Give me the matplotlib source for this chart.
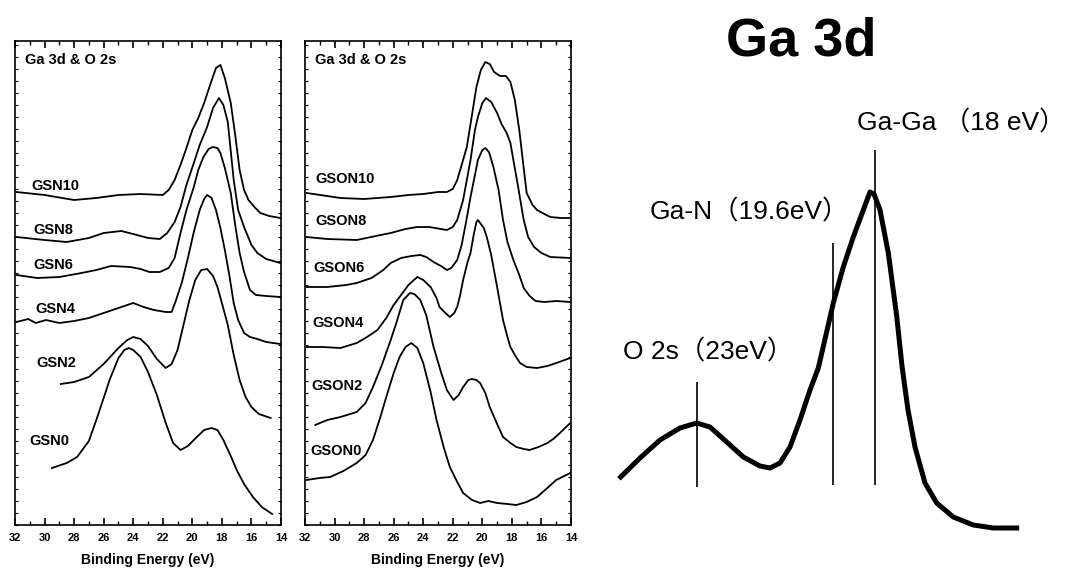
import matplotlib
matplotlib.use("Agg")
import matplotlib.pyplot as plt
from matplotlib.ticker import MultipleLocator

plt.rcParams['font.family'] = ['Liberation Sans', 'DejaVu Sans']

# ---- left panel: GSN series (binding energy eV, intensity a.u.) ----
gsn10_e = [31.9, 30.0, 28.0, 26.5, 25.0, 23.5, 22.0, 21.6, 21.2, 20.8, 20.4, 20.0, 19.6, 19.2,
           18.8, 18.4, 18.1, 17.8, 17.4, 17.1, 16.8, 16.5, 16.2, 15.8, 15.4, 14.8, 14.05]
gsn10_i = [333, 330, 325, 327, 330, 331, 330, 335, 345, 360, 377, 395, 407, 422,
           440, 457, 460, 447, 422, 390, 355, 335, 325, 318, 312, 309, 307]

gsn8_e = [31.9, 30.0, 28.5, 27.0, 26.0, 24.8, 24.0, 23.0, 22.2, 21.7, 21.2, 20.8, 20.4, 19.9,
          19.5, 19.0, 18.6, 18.2, 17.9, 17.6, 17.2, 16.9, 16.5, 16.0, 15.6, 15.0, 14.05]
gsn8_i = [288, 285, 283, 287, 292, 294, 291, 287, 286, 292, 303, 318, 340, 362,
          380, 398, 417, 427, 420, 403, 345, 315, 298, 280, 272, 266, 262]

gsn6_e = [31.9, 30.5, 29.0, 27.5, 26.5, 25.5, 24.2, 23.5, 22.9, 22.2, 21.6, 21.2, 20.8, 20.4, 19.9,
          19.6, 19.25, 18.9, 18.6, 18.3, 18.1, 17.8, 17.4, 17.1, 16.8, 16.5, 16.1, 15.7, 15.0, 14.05]
gsn6_i = [250, 247, 248, 252, 255, 259, 258, 256, 253, 253, 257, 267, 292, 315, 338,
          355, 368, 376, 378, 377, 372, 357, 332, 300, 272, 253, 235, 230, 229, 228]

gsn4_e = [31.9, 31.1, 30.6, 29.9, 29.0, 28.0, 27.0, 26.0, 25.0, 24.0, 23.3, 22.6, 21.8, 21.4, 21.1,
          20.7, 20.3, 19.9, 19.5, 19.2, 19.0, 18.7, 18.4, 18.1, 17.8, 17.5, 17.2, 16.9, 16.5,
          16.1, 15.6, 15.0, 14.05]
gsn4_i = [203, 206, 202, 205, 202, 204, 207, 212, 217, 222, 218, 215, 213, 213, 225,
          243, 267, 293, 315, 326, 330, 327, 315, 297, 275, 250, 222, 205, 192,
          188, 186, 183, 181]

gsn2_e = [28.9, 28.0, 27.0, 26.0, 25.0, 24.4, 24.0, 23.5, 23.0, 22.4, 21.8, 21.4, 21.0, 20.6,
          20.2, 19.8, 19.4, 19.0, 18.6, 18.3, 18.0, 17.6, 17.2, 16.8, 16.4, 16.0, 15.5, 14.7]
gsn2_i = [141, 143, 148, 161, 177, 185, 188, 186, 179, 166, 157, 161, 175, 200,
          225, 245, 255, 256, 249, 238, 222, 200, 170, 145, 128, 118, 111, 107]

gsn0_e = [29.5, 28.5, 27.8, 27.0, 26.5, 26.0, 25.6, 25.0, 24.6, 24.3, 24.0, 23.5, 23.0, 22.4, 21.8,
          21.3, 20.8, 20.3, 19.7, 19.2, 18.7, 18.3, 17.9, 17.4, 17.0, 16.5, 15.9, 15.3, 14.6]
gsn0_i = [57, 62, 68, 84, 105, 127, 145, 167, 175, 177, 175, 168, 153, 130, 102,
          82, 75, 79, 88, 95, 97, 95, 85, 69, 55, 41, 28, 18, 11]

# ---- middle panel: GSON series ----
gson10_e = [31.9, 30.5, 29.6, 28.0, 26.2, 25.0, 24.0, 23.0, 22.4, 22.0, 21.7, 21.4, 21.05, 20.7,
            20.4, 20.1, 19.8, 19.5, 19.2, 18.8, 18.4, 18.1, 17.8, 17.5, 17.2, 17.0, 16.6, 16.3,
            15.8, 15.4, 14.7, 14.05]
gson10_i = [332, 329, 327, 326, 328, 330, 331, 333, 333, 336, 345, 360, 378, 410,
            438, 455, 463, 461, 453, 449, 449, 443, 425, 395, 357, 332, 320, 315,
            311, 308, 307, 307]

gson8_e = [31.9, 30.5, 28.5, 27.2, 26.2, 25.2, 24.4, 23.6, 22.8, 22.4, 22.0, 21.7, 21.3, 20.8,
           20.5, 20.3, 20.0, 19.75, 19.4, 19.0, 18.7, 18.35, 18.1, 17.9, 17.6, 17.2, 16.9, 16.5,
           16.0, 15.4, 14.05]
gson8_i = [288, 286, 285, 289, 292, 296, 298, 298, 296, 295, 298, 305, 325, 365,
           395, 408, 422, 427, 423, 412, 401, 392, 382, 365, 340, 305, 288, 278,
           272, 268, 267]

gson6_e = [31.9, 30.5, 29.2, 28.5, 27.5, 26.7, 26.2, 25.5, 24.8, 24.2, 23.8, 23.3, 22.8, 22.4,
           22.1, 21.7, 21.4, 21.1, 20.8, 20.5, 20.3, 20.0, 19.8, 19.55, 19.25, 18.9, 18.6, 18.3,
           17.9, 17.5, 17.2, 16.8, 16.4, 15.8, 15.0, 14.05]
gson6_i = [238, 238, 240, 242, 247, 255, 262, 267, 269, 270, 268, 263, 259, 255,
           257, 265, 280, 303, 328, 350, 365, 375, 377, 373, 358, 335, 305, 283,
           265, 250, 237, 229, 224, 223, 224, 223]

gson4_e = [31.9, 30.8, 29.6, 28.5, 27.8, 27.1, 26.5, 26.0, 25.5, 25.0, 24.4, 24.0, 23.5, 23.1,
           22.9, 22.5, 22.2, 21.9, 21.7, 21.5, 21.3, 21.0, 20.8, 20.6, 20.4, 20.3, 20.1, 19.9,
           19.7, 19.4, 19.0, 18.6, 18.3, 18.1, 17.8, 17.45, 17.0, 16.3, 15.6, 15.0, 14.05]
gson4_i = [178, 178, 177, 182, 188, 195, 207, 220, 230, 240, 248, 245, 238, 227,
           218, 212, 208, 212, 218, 230, 245, 263, 272, 289, 303, 305, 301, 297,
           288, 270, 238, 205, 188, 178, 170, 162, 158, 157, 159, 162, 167]

gson2_e = [31.3, 30.5, 29.6, 28.5, 27.9, 27.4, 26.8, 26.2, 25.8, 25.35, 24.9, 24.6, 24.2, 23.8,
           23.3, 22.8, 22.4, 21.95, 21.6, 21.3, 20.95, 20.7, 20.4, 20.15, 19.8, 19.5, 19.0, 18.6,
           18.1, 17.7, 17.2, 16.8, 16.2, 15.6, 15.2, 14.75, 14.4, 14.05]
gson2_i = [100, 105, 108, 113, 122, 138, 160, 185, 203, 225, 232, 231, 225, 210,
           178, 153, 135, 125, 130, 138, 145, 146, 145, 142, 132, 118, 101, 88,
           82, 78, 76, 75, 78, 82, 86, 92, 97, 102]

gson0_e = [31.9, 31.0, 30.3, 29.4, 28.5, 27.9, 27.4, 26.9, 26.5, 26.0, 25.6, 25.2, 24.8, 24.4,
           24.0, 23.5, 23.1, 22.6, 22.2, 21.7, 21.3, 20.7, 20.15, 19.6, 19.0, 18.3, 17.7, 17.0,
           16.3, 15.6, 15.0, 14.05]
gson0_i = [45, 47, 48, 54, 62, 70, 85, 108, 128, 152, 168, 178, 182, 177,
           162, 133, 105, 77, 58, 43, 32, 25, 22, 24, 22, 21, 20, 23,
           28, 37, 45, 52]

gsn_curves = [(gsn10_e, gsn10_i), (gsn8_e, gsn8_i), (gsn6_e, gsn6_i),
              (gsn4_e, gsn4_i), (gsn2_e, gsn2_i), (gsn0_e, gsn0_i)]
gson_curves = [(gson10_e, gson10_i), (gson8_e, gson8_i), (gson6_e, gson6_i),
               (gson4_e, gson4_i), (gson2_e, gson2_i), (gson0_e, gson0_i)]

gsn_names = ["GSN10", "GSN8", "GSN6", "GSN4", "GSN2", "GSN0"]
gsn_label_e = [30.87, 30.76, 30.76, 30.65, 30.58, 31.03]
gsn_label_i = [339, 295, 260, 216, 162, 84]

gson_names = ["GSON10", "GSON8", "GSON6", "GSON4", "GSON2", "GSON0"]
gson_label_e = [31.32, 31.32, 31.44, 31.48, 31.55, 31.66]
gson_label_i = [346, 304, 257, 202, 139, 74]

# ---- right: schematic Ga 3d peak (arbitrary units) ----
sketch_x = [30.7, 50, 70, 90, 106.7, 120, 136.7, 153.3, 170, 180, 190, 200, 210, 220, 228.3,
            235.5, 243.3, 253.3, 263.3, 273.3, 280, 284, 290, 298.3, 306.7, 312, 318, 325,
            335, 346.7, 363.3, 383.3, 403.3, 426.7]
sketch_y = [91, 110, 128, 140, 145, 141, 126, 111, 102, 100, 105, 121, 148, 178, 200,
            231, 265, 301, 331, 358, 376, 374, 358, 315, 252, 202, 158, 121,
            85, 65, 51, 43, 40, 40]
marker_x = [106.7, 243.3, 285]
marker_bottom = [81, 83, 83]
marker_top = [186, 325, 418]
marker_text = ["O 2s（23eV）", "Ga-N（19.6eV）", "Ga-Ga （18 eV）"]
marker_text_x = [33, 60, 266.7]
marker_text_y = [216, 356, 445]

fig = plt.figure(figsize=(10.67, 5.68), dpi=100)

W, H = 1067.0, 568.0
ax1 = fig.add_axes([15 / W, 1 - 525 / H, 266 / W, 484 / H])
ax2 = fig.add_axes([305 / W, 1 - 525 / H, 266 / W, 484 / H])


def style_panel(ax):
    ax.set_xlim(32, 14)
    ax.set_ylim(0, 484)
    ax.xaxis.set_major_locator(MultipleLocator(2))
    ax.xaxis.set_minor_locator(MultipleLocator(1))
    ax.yaxis.set_major_locator(MultipleLocator(12))
    ax.tick_params(axis='x', which='major', direction='in', length=5, width=1.2,
                   top=True, pad=6, labelsize=8)
    ax.tick_params(axis='x', which='minor', direction='in', length=3, width=1.0, top=True)
    ax.tick_params(axis='y', which='major', direction='in', length=2.5, width=0.8,
                   left=True, right=True, labelleft=False)
    for lbl in ax.get_xticklabels():
        lbl.set_fontweight('bold')
    for sp in ax.spines.values():
        sp.set_linewidth(1.2)
    ax.set_xlabel("Binding Energy (eV)", fontsize=10, fontweight='bold', labelpad=7)
    ax.text(31.32, 465, "Ga 3d & O 2s", fontsize=10.5, fontweight='bold', ha='left', va='center')


for e, inten in gsn_curves:
    ax1.plot(e, inten, color='black', lw=1.3)
for name, x, y in zip(gsn_names, gsn_label_e, gsn_label_i):
    ax1.text(x, y, name, fontsize=10.5, fontweight='bold', ha='left', va='center')
style_panel(ax1)

for e, inten in gson_curves:
    ax2.plot(e, inten, color='black', lw=1.3)
for name, x, y in zip(gson_names, gson_label_e, gson_label_i):
    ax2.text(x, y, name, fontsize=10.5, fontweight='bold', ha='left', va='center')
style_panel(ax2)

# schematic
ax3 = fig.add_axes([590 / W, 0, 477 / W, 1])
ax3.set_xlim(0, 477)
ax3.set_ylim(0, 568)
ax3.axis('off')
ax3.plot(sketch_x, sketch_y, color='black', lw=3.6, solid_joinstyle='round')
ax3.vlines(marker_x, marker_bottom, marker_top, color='black', lw=1.2)
for t, x, y in zip(marker_text, marker_text_x, marker_text_y):
    ax3.text(x, y, t, fontsize=19, ha='left', va='center',
             family=['Liberation Sans', 'Noto Sans CJK SC'])
ax3.text(210.8, 527, "Ga 3d", fontsize=39, fontweight='bold', ha='center', va='center')

fig.savefig("out.png", dpi=100)
